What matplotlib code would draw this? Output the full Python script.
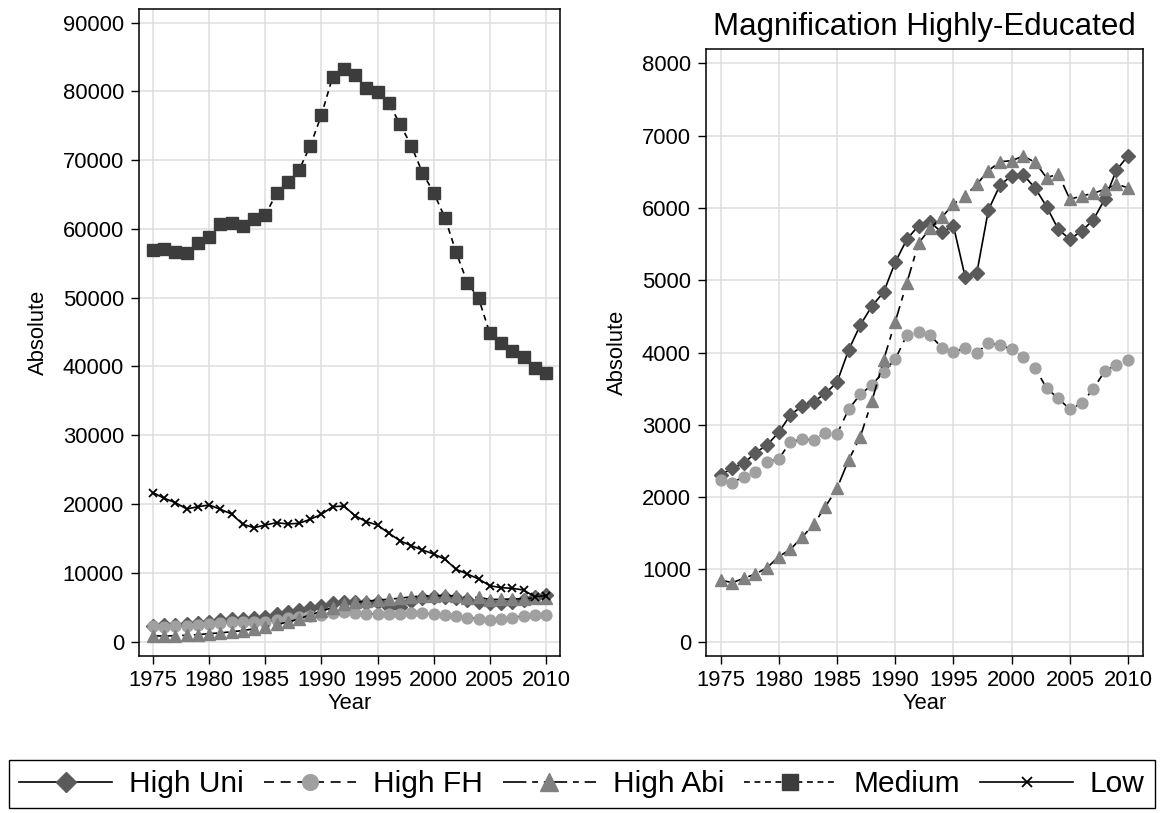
import matplotlib
matplotlib.use("Agg")
import matplotlib.pyplot as plt
from matplotlib.lines import Line2D

plt.rcParams['font.family'] = ['Liberation Sans', 'DejaVu Sans']

years = list(range(1975, 2011))

high_uni = [2306, 2398, 2467, 2614, 2721, 2896, 3136, 3260, 3320, 3436, 3588, 4035,
            4380, 4643, 4833, 5248, 5566, 5754, 5801, 5663, 5750, 5048, 5095, 5971,
            6317, 6446, 6455, 6279, 6017, 5704, 5566, 5680, 5833, 6123, 6524, 6722]
high_fh = [2237, 2200, 2282, 2343, 2490, 2527, 2766, 2799, 2790, 2891, 2873, 3214,
           3422, 3550, 3734, 3906, 4242, 4279, 4242, 4066, 4011, 4058, 3997, 4127,
           4104, 4044, 3934, 3790, 3505, 3366, 3214, 3297, 3495, 3744, 3827, 3896]
high_abi = [853, 816, 877, 936, 1024, 1176, 1278, 1444, 1624, 1867, 2121, 2513,
            2835, 3329, 3896, 4426, 4965, 5510, 5718, 5870, 6054, 6165, 6326, 6515,
            6639, 6653, 6718, 6631, 6418, 6469, 6119, 6165, 6202, 6257, 6326, 6279]
medium = [56930, 57080, 56690, 56450, 57990, 58870, 60710, 60810, 60420, 61440, 62020, 65170,
          66860, 68560, 72050, 76550, 82120, 83240, 82370, 80440, 79940, 78260, 75250, 72090,
          68170, 65260, 61630, 56600, 52180, 49910, 44830, 43370, 42250, 41420, 39740, 39010]
low = [21660, 20840, 20200, 19290, 19620, 19870, 19240, 18560, 17060, 16570, 16960, 17300,
       17110, 17210, 17790, 18520, 19620, 19720, 18310, 17440, 16960, 15760, 14680, 13950,
       13330, 12750, 11980, 10520, 9840, 9110, 8140, 7850, 7760, 7510, 6540, 6690]

labels = ["High Uni", "High FH", "High Abi", "Medium", "Low"]
xticks = list(range(1975, 2011, 5))
yticks_left = list(range(0, 90001, 10000))
yticks_right = list(range(0, 8001, 1000))
title_right = "Magnification Highly-Educated"

LW = 1.2
styles = {
    "High Uni": dict(color='black', ls='-', marker='D', mfc='#5a5a5a', mec='#5a5a5a', ms=7.0),
    "High FH": dict(color='black', ls=(0, (6, 4)), marker='o', mfc='#a0a0a0', mec='#a0a0a0', ms=7.8),
    "High Abi": dict(color='black', ls=(0, (14, 3.5, 3.5, 3.5)), marker='^', mfc='#808080', mec='#808080', ms=8.8),
    "Medium": dict(color='black', ls=(0, (3.5, 2.8)), marker='s', mfc='#3c3c3c', mec='#3c3c3c', ms=8.4),
    "Low": dict(color='black', ls='-', marker='x', mfc='black', mec='black', ms=5.8, mew=1.3),
}

W, H = 1161, 813
fig = plt.figure(figsize=(W / 100, H / 100), dpi=100)
ax1 = fig.add_axes([139 / W, (H - 656) / H, 421 / W, (656 - 9.3) / H])
ax2 = fig.add_axes([706 / W, (H - 656) / H, 436.7 / W, (656 - 49.3) / H])

def style_axes(ax, yticks, ylim):
    ax.set_xlim(1973.75, 2011.25)
    ax.set_ylim(*ylim)
    ax.set_xticks(xticks)
    ax.set_yticks(yticks)
    ax.grid(True, color='#dedede', lw=1.1)
    ax.set_axisbelow(True)
    for s in ax.spines.values():
        s.set_linewidth(1.1)
        s.set_color('black')
    ax.tick_params(axis='both', direction='out', length=5.8, width=1.0, labelsize=15.8, color='black')
    ax.tick_params(axis='y', pad=5)
    ax.tick_params(axis='x', pad=4)
    ax.set_xlabel("Year", fontsize=15.8, labelpad=2)
    ax.set_ylabel("Absolute", fontsize=15.8, labelpad=10)

series = [("High Uni", high_uni), ("High FH", high_fh), ("High Abi", high_abi)]
for name, vals in series:
    ax1.plot(years, vals, lw=LW, **styles[name])
for name, vals in [("Medium", medium), ("Low", low)]:
    ax1.plot(years, vals, lw=LW, **styles[name])
for name, vals in series:
    ax2.plot(years, vals, lw=LW, **styles[name])

style_axes(ax1, yticks_left, (-2080, 91920))
style_axes(ax2, yticks_right, (-198, 8194))
ax2.set_title(title_right, fontsize=22.5, pad=10.3)

handles = []
for name in labels:
    st = dict(styles[name])
    st['ms'] = st['ms'] * 1.45 if name != "Low" else st['ms'] * 1.2
    handles.append(Line2D([], [], lw=LW, **st))
leg = fig.legend(handles, labels, loc='center', bbox_to_anchor=(582 / W, 1 - 784 / H),
                 ncol=5, fontsize=21.5, handlelength=3.1, handletextpad=0.57,
                 columnspacing=0.67, borderpad=0.35, frameon=True, fancybox=False,
                 edgecolor='black', framealpha=1, borderaxespad=0, numpoints=1)
leg.get_frame().set_linewidth(1.0)

fig.savefig("out.png", dpi=100)
